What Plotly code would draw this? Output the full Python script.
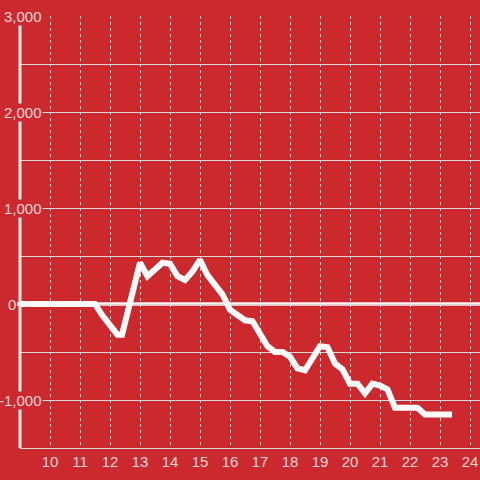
import plotly.graph_objects as go

# Data (hour of day, value)
hours = [9.0, 9.25, 9.5, 9.75, 10.0, 10.25, 10.5, 10.75, 11.0, 11.25, 11.5,
         11.75, 12.0, 12.25, 12.4, 12.75, 13.0, 13.25, 13.5, 13.75, 14.0,
         14.25, 14.5, 14.75, 15.0, 15.25, 15.5, 15.75, 16.0, 16.25, 16.5,
         16.75, 17.0, 17.25, 17.5, 17.75, 18.0, 18.25, 18.5, 18.75, 19.0,
         19.25, 19.5, 19.75, 20.0, 20.25, 20.5, 20.75, 21.0, 21.25, 21.5,
         21.75, 22.0, 22.25, 22.5, 22.75, 23.0, 23.25, 23.4]
values = [0, 0, 0, 0, 0, 0, 0, 0, 0, 0, 0,
          -120, -220, -320, -320, 90, 430, 290, 360, 430, 420,
          290, 250, 340, 460, 300, 200, 100, -60, -110, -170,
          -180, -300, -440, -500, -500, -550, -670, -690, -560, -440,
          -450, -620, -680, -830, -830, -930, -830, -850, -890, -1080,
          -1080, -1080, -1080, -1150, -1150, -1150, -1150, -1150]

x_ticks = list(range(10, 25))
x_tick_labels = [str(t) for t in x_ticks]
y_label_vals = [3000, 2000, 1000, 0, -1000]
y_label_text = ["3,000", "2,000", "1,000", "0", "-1,000"]

BG = "#CC292E"
TXT = "#F3D6D7"
FONT = "Liberation Sans, Arial, sans-serif"

fig = go.Figure()
fig.add_trace(go.Scatter(
    x=hours, y=values, mode="lines",
    line=dict(color="#FFFFFF", width=6),
    hoverinfo="skip", showlegend=False,
))

# zero line and y axis line
fig.add_shape(type="line", xref="paper", yref="y", x0=-3/460, x1=1, y0=0, y1=0,
              line=dict(color="#F7F2F2", width=3.5), layer="below")
fig.add_shape(type="line", xref="paper", yref="paper", x0=0, x1=0, y0=0, y1=1,
              line=dict(color="#F2EEEE", width=3), layer="above")

for v, t in zip(y_label_vals, y_label_text):
    fig.add_annotation(x=0, xref="paper", y=v, yref="y", text=t,
                       showarrow=False, xanchor="right", yanchor="middle",
                       xshift=(-3 if v == 0 else 23), bgcolor=BG, borderpad=0,
                       font=dict(family=FONT, size=15, color=TXT))

fig.update_layout(
    width=480, height=480,
    margin=dict(l=20, r=0, t=16, b=32),
    paper_bgcolor=BG, plot_bgcolor=BG,
    showlegend=False,
    font=dict(family=FONT, size=15, color=TXT),
    xaxis=dict(
        range=[9, 24.333], tickvals=x_ticks, ticktext=x_tick_labels,
        showgrid=True, gridcolor="rgba(255,255,255,0.85)", gridwidth=1,
        griddash="dot", zeroline=False, showline=True,
        linecolor="#D9D9D9", linewidth=1, ticks="",
        tickfont=dict(family=FONT, size=15, color=TXT),
        fixedrange=True,
    ),
    yaxis=dict(
        range=[-1500, 3000], dtick=500, tick0=0,
        showgrid=True, gridcolor="#D9D9D9", gridwidth=1,
        zeroline=False, showline=False, showticklabels=False, ticks="",
        fixedrange=True,
    ),
)

fig.write_html(
    "out.html",
    config={"displayModeBar": False},
    post_script="document.body.style.margin='0';document.body.style.background='#CC292E';",
)
